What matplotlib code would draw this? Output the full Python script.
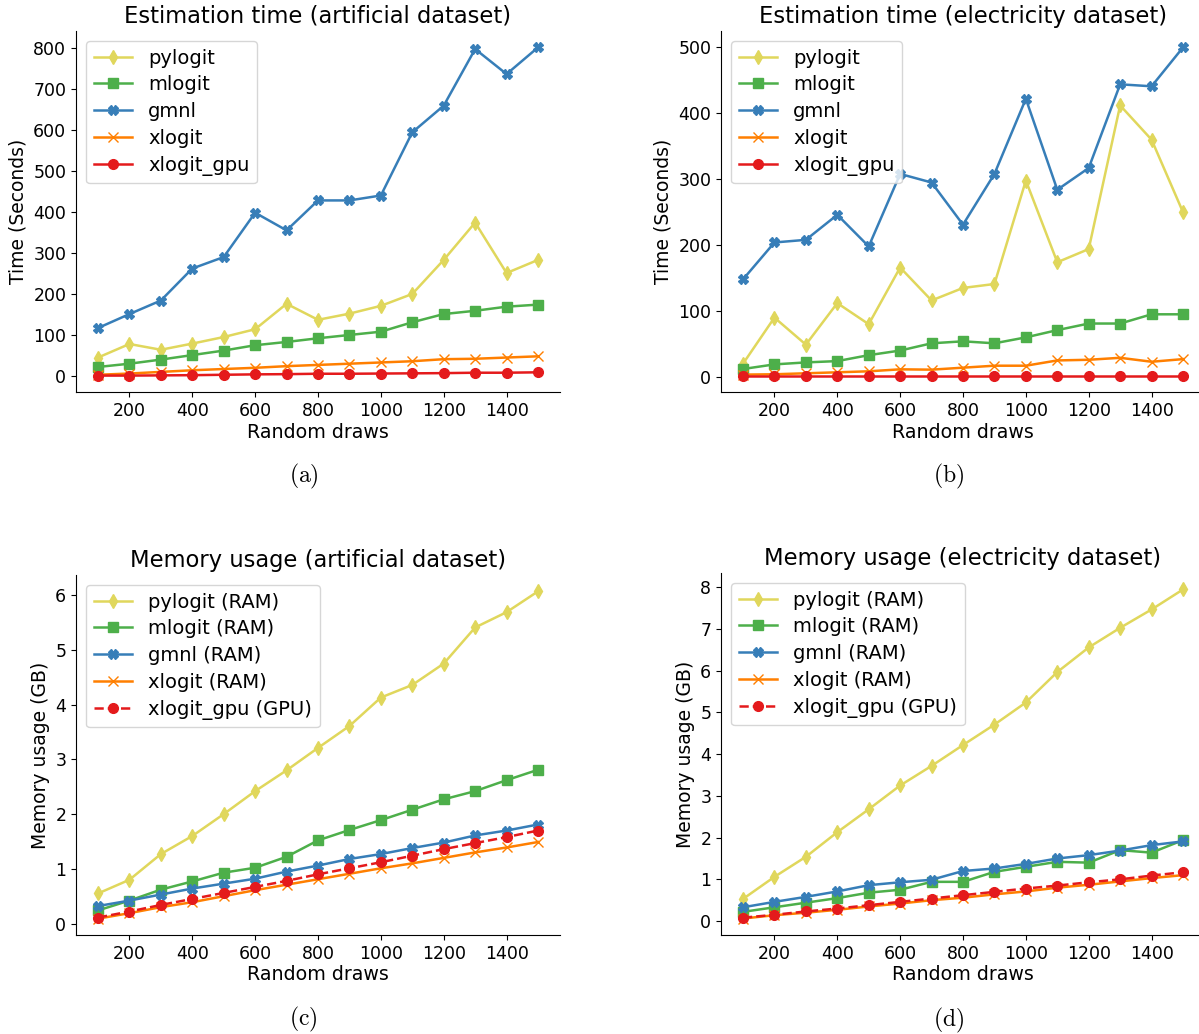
import numpy as np
import matplotlib.pyplot as plt

plt.rcParams["mathtext.fontset"] = "cm"

draws = [100, 200, 300, 400, 500, 600, 700, 800, 900, 1000, 1100, 1200, 1300, 1400, 1500]

# estimation time (seconds), artificial dataset
time_art_pylogit = [46, 79, 65, 80, 96, 115, 177, 138, 153, 172, 201, 284, 375, 252, 284]
time_art_mlogit = [23, 31, 41, 52, 63, 76, 84, 93, 101, 109, 132, 152, 160, 170, 175]
time_art_gmnl = [118, 152, 185, 263, 291, 399, 356, 429, 429, 441, 595, 660, 798, 737, 802]
time_art_xlogit = [4, 7, 11, 15, 18, 21, 25, 28, 31, 34, 37, 42, 43, 46, 49]
time_art_gpu = [2, 2, 2.5, 3, 4, 5, 5.5, 6.5, 6.5, 7, 7.5, 8, 9, 9, 10]

# estimation time (seconds), electricity dataset
time_ele_pylogit = [20, 90, 49, 112, 80, 166, 116, 135, 141, 298, 174, 194, 412, 360, 250]
time_ele_mlogit = [12, 19, 22, 24, 33, 40, 51, 54, 51, 60, 71, 81, 81, 95, 95]
time_ele_gmnl = [148, 204, 208, 246, 198, 308, 295, 231, 308, 422, 284, 317, 444, 441, 500]
time_ele_xlogit = [3.5, 4, 5.5, 7, 8.5, 11.5, 11, 14, 17, 17, 25, 26, 29, 23, 27]
time_ele_gpu = [2, 2, 2, 2, 2, 2, 2, 2, 2, 2, 2, 2, 2, 2, 2]

# memory usage (GB), artificial dataset
mem_art_pylogit = [0.55, 0.80, 1.27, 1.60, 2.00, 2.42, 2.80, 3.21, 3.61, 4.13, 4.36, 4.75, 5.41, 5.69, 6.07]
mem_art_mlogit = [0.24, 0.42, 0.62, 0.77, 0.93, 1.02, 1.22, 1.52, 1.71, 1.89, 2.08, 2.27, 2.42, 2.62, 2.81]
mem_art_gmnl = [0.32, 0.42, 0.53, 0.64, 0.73, 0.82, 0.95, 1.06, 1.18, 1.27, 1.38, 1.48, 1.61, 1.70, 1.81]
mem_art_xlogit = [0.09, 0.19, 0.30, 0.39, 0.50, 0.61, 0.71, 0.81, 0.91, 1.01, 1.10, 1.20, 1.30, 1.39, 1.49]
mem_art_gpu = [0.11, 0.22, 0.34, 0.45, 0.56, 0.67, 0.78, 0.90, 1.01, 1.12, 1.24, 1.36, 1.47, 1.58, 1.70]

# memory usage (GB), electricity dataset
mem_ele_pylogit = [0.53, 1.06, 1.54, 2.13, 2.68, 3.25, 3.72, 4.22, 4.71, 5.24, 5.97, 6.56, 7.03, 7.47, 7.95]
mem_ele_mlogit = [0.22, 0.33, 0.44, 0.55, 0.68, 0.75, 0.94, 0.94, 1.18, 1.30, 1.42, 1.40, 1.70, 1.64, 1.94]
mem_ele_gmnl = [0.33, 0.46, 0.58, 0.71, 0.86, 0.93, 0.99, 1.20, 1.26, 1.37, 1.50, 1.58, 1.69, 1.82, 1.91]
mem_ele_xlogit = [0.06, 0.14, 0.20, 0.27, 0.35, 0.42, 0.50, 0.56, 0.64, 0.71, 0.80, 0.87, 0.95, 1.03, 1.10]
mem_ele_gpu = [0.08, 0.15, 0.23, 0.30, 0.38, 0.46, 0.54, 0.62, 0.70, 0.78, 0.85, 0.93, 1.00, 1.09, 1.17]

names = ["pylogit", "mlogit", "gmnl", "xlogit", "xlogit_gpu"]
colors = ["#e0d75c", "#4daf4a", "#377eb8", "#ff7f00", "#e41a1c"]
markers = ["d", "s", "X", "x", "o"]

panels = [
    ("Estimation time (artificial dataset)", "Time (Seconds)", "(a)",
     [time_art_pylogit, time_art_mlogit, time_art_gmnl, time_art_xlogit, time_art_gpu]),
    ("Estimation time (electricity dataset)", "Time (Seconds)", "(b)",
     [time_ele_pylogit, time_ele_mlogit, time_ele_gmnl, time_ele_xlogit, time_ele_gpu]),
    ("Memory usage (artificial dataset)", "Memory usage (GB)", "(c)",
     [mem_art_pylogit, mem_art_mlogit, mem_art_gmnl, mem_art_xlogit, mem_art_gpu]),
    ("Memory usage (electricity dataset)", "Memory usage (GB)", "(d)",
     [mem_ele_pylogit, mem_ele_mlogit, mem_ele_gmnl, mem_ele_xlogit, mem_ele_gpu]),
]

# axes boxes in pixels (left, top, right, bottom) of a 1199x1034 canvas
W, H = 1199, 1034
boxes = [(76, 31, 560, 392), (721, 31, 1205, 392), (76, 575, 560, 935), (721, 573, 1205, 935)]

fig = plt.figure(figsize=(W / 100, H / 100), dpi=100)

for i, (title, ylabel, tag, series) in enumerate(panels):
    l, t, r, b = boxes[i]
    ax = fig.add_axes([l / W, 1 - b / H, (r - l) / W, (b - t) / H])
    memory = i >= 2
    for j, (name, vals) in enumerate(zip(names, series)):
        label = name
        ls = "-"
        if memory:
            label = name + (" (GPU)" if name == "xlogit_gpu" else " (RAM)")
            if name == "xlogit_gpu":
                ls = "--"
        ax.plot(draws, vals, color=colors[j], marker=markers[j], ls=ls,
                lw=1.8, markersize=7, label=label)
    ax.set_title(title, fontsize=16.3)
    ax.set_xlabel("Random draws", fontsize=13.7, labelpad=2)
    ax.set_ylabel(ylabel, fontsize=13.5)
    ax.tick_params(labelsize=12.5)
    ax.set_xticks([200, 400, 600, 800, 1000, 1200, 1400])
    ax.spines["top"].set_visible(False)
    ax.spines["right"].set_visible(False)
    ax.legend(loc="upper left", fontsize=14, handlelength=2.0, handletextpad=0.8,
              labelspacing=0.4)
    ax.text(0.47, -0.235, r"$\mathrm{%s}$" % tag, transform=ax.transAxes,
            ha="center", va="center", fontsize=17)

fig.savefig("out.png", dpi=100)
